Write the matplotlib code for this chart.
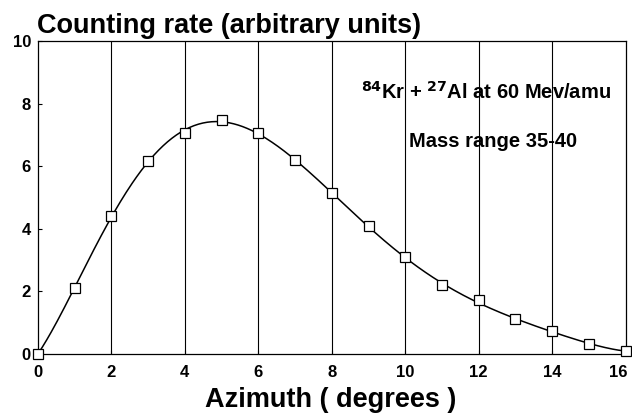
import numpy as np
import matplotlib.pyplot as plt
from matplotlib.transforms import ScaledTranslation

plt.rcParams["font.family"] = ["Liberation Sans", "DejaVu Sans"]

# azimuth (degrees) and counting rate
azimuth = [0, 1, 2, 3, 4, 5, 6, 7, 8, 9, 10, 11, 12, 13, 14, 15, 16]
rate = [0.0, 2.12, 4.40, 6.16, 7.07, 7.47, 7.07, 6.20, 5.13, 4.08, 3.09,
        2.19, 1.71, 1.11, 0.72, 0.32, 0.10]
x_ticks = [0, 2, 4, 6, 8, 10, 12, 14, 16]
y_ticks = [0, 2, 4, 6, 8, 10]


def main():
    fig = plt.figure(figsize=(6.32, 4.15), dpi=100)
    ax = fig.add_axes([0.060, 0.147, 0.930, 0.754])

    # smooth fitted curve through the measured points
    coef = np.polyfit(azimuth, rate, 6)
    xs = np.linspace(0, 16, 400)
    ax.plot(xs, np.polyval(coef, xs), color="black", lw=1.1)
    ax.plot(azimuth, rate, ls="none", marker="s", ms=6.5, mfc="white",
            mec="black", mew=0.9, clip_on=False, zorder=3)

    for xv in x_ticks[1:-1]:
        ax.axvline(xv, color="black", lw=0.8, zorder=1)

    ax.set_xlim(0, 16)
    ax.set_ylim(0, 10)
    ax.set_xticks(x_ticks)
    ax.set_yticks(y_ticks)
    ax.tick_params(direction="in", length=3, width=0.8, labelsize=12)
    ax.tick_params(axis="x", pad=8)
    ax.tick_params(axis="y", pad=5)
    for lab in ax.get_xticklabels() + ax.get_yticklabels():
        lab.set_fontweight("bold")
    # last x label sits at the right edge; nudge it in so it is not clipped
    last = ax.get_xticklabels()[-1]
    last.set_transform(last.get_transform()
                       + ScaledTranslation(-5 / 72, 0, fig.dpi_scale_trans))
    for sp in ax.spines.values():
        sp.set_linewidth(0.9)

    ax.text(8.8, 8.14, r"$^{\mathbf{84}}$Kr + $^{\mathbf{27}}$Al at 60 Mev/amu",
            fontsize=14.5, fontweight="bold", va="baseline")
    ax.text(10.1, 6.6, "Mass range 35-40", fontsize=14.5, fontweight="bold",
            va="baseline")

    fig.text(0.058, 0.920, "Counting rate (arbitrary units)", fontsize=19.5,
             fontweight="bold", ha="left", va="baseline")
    fig.text(0.523, 0.02, "Azimuth ( degrees )", fontsize=19.5,
             fontweight="bold", ha="center", va="baseline")

    fig.savefig("out.png", dpi=100)
    plt.close(fig)


if __name__ == "__main__":
    main()
